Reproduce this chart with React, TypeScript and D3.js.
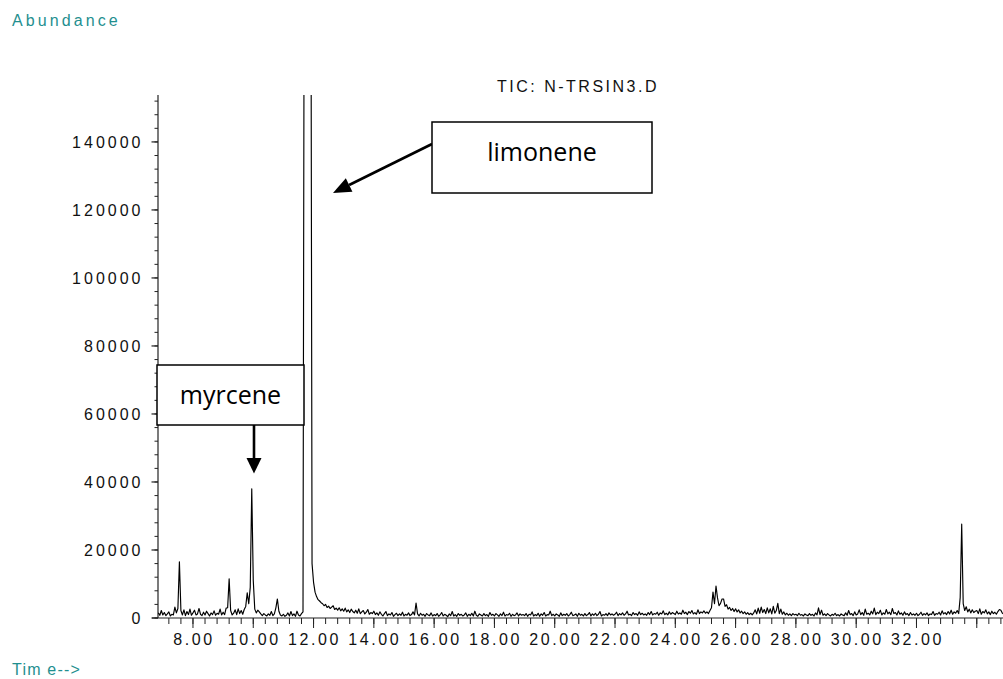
import React from "react";
import * as d3 from "d3";

// ---- data ----
const startTime = 6.85; // min, first sample
const sampleStep = 0.05; // min between samples
const abundance = [
  // 6.85 - 6.95
  1500, 800, 2200,
  // 7.00 - 7.95
  900, 1600, 700, 1200, 1800, 600, 1100, 900, 3200, 1500, 2800, 16500, 2200, 900, 2400, 700, 1900, 1000, 2600, 800,
  // 8
  1500, 2300, 900, 1200, 2800, 1100, 700, 1700, 900, 2000, 1300, 600, 1500, 1000, 2100, 800, 1400, 1100, 2600, 900,
  // 9
  1700, 1000, 2900, 3000, 11500, 2200, 900, 1400, 2400, 1000, 2700, 1300, 2200, 1100, 2500, 3400, 7400, 4200, 9000, 38000,
  // 10
  11000, 2600, 1500, 2300, 1800, 1200, 700, 1300, 900, 600, 1200, 800, 1900, 700, 1200, 3000, 5600, 2000, 900, 600,
  // 11
  1100, 500, 800, 1500, 600, 1900, 700, 1200, 500, 2000, 900, 600, 1300, 1800, 250000, 620000, 700000, 450000, 260000, 16000,
  // 12
  10500, 7600, 6300, 5400, 5000, 4500, 4200, 3600, 4000, 3100, 3500, 2800, 3200, 3600, 2500, 2900, 2300, 3000, 2100, 2700,
  // 13
  2000, 2900, 1800, 2400, 1600, 2600, 1900, 1500, 2300, 1400, 2700, 1300, 1800, 2200, 1200, 1700, 2500, 1100, 1600, 1300,
  // 14
  2000, 1000, 1500, 800, 1800, 1100, 600, 1300, 1900, 700, 1200, 900, 1600, 500, 1000, 1400, 700, 1200, 800, 1700,
  // 15
  600, 1100, 800, 1500, 700, 1000, 1800, 900, 4400, 1200, 600, 1400, 800, 1100, 500, 1300, 900, 700, 1500, 600,
  // 16
  1000, 700, 1300, 500, 900, 1600, 600, 1100, 800, 400, 1200, 700, 1900, 600, 1000, 500, 1300, 800, 1100, 600,
  // 17
  900, 1500, 500, 1100, 700, 1400, 600, 2000, 800, 500, 1200, 900, 600, 1300, 700, 1000, 500, 1600, 800, 1100,
  // 18
  600, 1300, 900, 500, 1200, 700, 1700, 600, 1000, 800, 1400, 500, 1100, 700, 900, 1500, 600, 1200, 800, 1000,
  // 19
  700, 1300, 500, 1100, 900, 1800, 600, 1000, 700, 1400, 500, 1200, 800, 1600, 600, 1000, 900, 2000, 700, 1100,
  // 20
  600, 1200, 900, 500, 1500, 700, 1100, 800, 1300, 600, 1000, 1700, 700, 900, 1200, 500, 1400, 800, 1100, 600,
  // 21
  1300, 700, 1000, 1600, 600, 1200, 800, 1400, 700, 1100, 1900, 600, 1000, 800, 1300, 700, 1500, 900, 1200, 800,
  // 22
  1100, 1700, 700, 1300, 900, 1500, 800, 1200, 2000, 900, 1100, 700, 1600, 1000, 1300, 800, 1800, 1000, 1400, 900,
  // 23
  1200, 800, 1600, 1000, 1900, 900, 1300, 1100, 1700, 800, 1500, 1200, 2100, 1000, 1400, 900, 1800, 1100, 1600, 1300,
  // 24
  1000, 2000, 1200, 1500, 1100, 2300, 1300, 1700, 1000, 1900, 1400, 2200, 1200, 1600, 1100, 2400, 1300, 1800, 1500, 2100,
  // 25
  1400, 1800, 1300, 2200, 3000, 7600, 4200, 9400, 5900, 3600, 4300, 5600, 5600, 3400, 3900, 2600, 3100, 2200, 2800, 1900,
  // 26
  2700, 1800, 2400, 1500, 2000, 1300, 1800, 1100, 1600, 1000, 1400, 900, 1500, 2400, 1200, 2900, 1400, 3200, 1600, 2500,
  // 27
  1300, 3000, 1500, 2700, 1200, 3400, 1400, 2200, 4300, 1300, 2600, 1100, 1800, 900, 1400, 800, 1200, 700, 1300, 900,
  // 28
  1100, 700, 1400, 800, 1000, 600, 1200, 900, 700, 1300, 800, 1100, 600, 1500, 900, 3000, 1000, 2300, 800, 1200,
  // 29
  700, 1300, 900, 600, 1100, 800, 1400, 700, 1000, 600, 1200, 900, 700, 1500, 800, 2200, 1000, 1300, 700, 1800,
  // 30
  900, 1200, 2400, 1000, 1600, 800, 2600, 1100, 1400, 900, 2000, 1200, 2900, 1000, 1700, 1300, 2300, 900, 1500, 1100,
  // 31
  2500, 1200, 1700, 1000, 2800, 1300, 1600, 900, 2100, 1100, 1500, 800, 1800, 1000, 1300, 700, 1600, 900, 1200, 800,
  // 32
  1400, 700, 1100, 1700, 800, 1300, 900, 1500, 700, 1200, 1000, 1900, 800, 1300, 1100, 1700, 900, 2100, 1200, 1600,
  // 33
  1000, 1900, 1200, 2300, 1100, 1800, 1400, 2200, 1300, 6000, 27600, 4200, 2200, 3300, 1800, 2600, 1500, 2400, 1600, 2000,
  // 34
  2200, 1300, 2700, 1100, 1900, 1500, 2400, 1200, 1800, 1000, 2000, 1300, 1700, 1100, 1900, 2500, 2300, 1400, 1200, 1800,
  // 35.00
  1000,
];

const yTickValues = [0, 20000, 40000, 60000, 80000, 100000, 120000, 140000];
const yTickLabels = ["0", "20000", "40000", "60000", "80000", "100000", "120000", "140000"];
const xLabelTimes = [8, 10, 12, 14, 16, 18, 20, 22, 24, 26, 28, 30, 32];
const xTickLabels = ["8.00", "10.00", "12.00", "14.00", "16.00", "18.00", "20.00", "22.00", "24.00", "26.00", "28.00", "30.00", "32.00"];
const xMajorTimes = [8, 10, 12, 14, 16, 18, 20, 22, 24, 26, 28, 30, 32, 34];

const title = "TIC: N-TRSIN3.D";
const yTitle = "Abundance";
const xTitle = "Tim e-->";
const annotations = [
  { label: "limonene" },
  { label: "myrcene" },
];

export default function App() {
  const W = 1003;
  const H = 679;
  const left = 158;
  const right = 1003;
  const top = 95;
  const bottom = 618;

  const x = d3.scaleLinear().domain([6.84, 34.87]).range([left, right]);
  const y = d3.scaleLinear().domain([0, 153800]).range([bottom, top]);

  const pts: [number, number][] = abundance.map((v, i) => [startTime + i * sampleStep, v]);
  const line = d3
    .line<[number, number]>()
    .x((d) => x(d[0]))
    .y((d) => y(d[1]));
  const path = line(pts) || "";

  const xMinor = d3.range(7.2, 34.9, 0.4);
  const yMinor = d3.range(0, 152001, 4000);

  const axisFont = "'Liberation Sans', Arial, sans-serif";
  const teal = "#1f8f8f";
  const axisColor = "#222";

  // annotation geometry
  const limBox = { x0: 432, y0: 122, x1: 652, y1: 193 };
  const myrBox = { x0: 157, y0: 365, x1: 304, y1: 425 };

  const limTip = { x: 333, y: 193 };
  const limStart = { x: 432, y: 144 };
  const ang = Math.atan2(limStart.y - limTip.y, limStart.x - limTip.x);
  const headLen = 18;
  const headW = 7.5;
  const bx = limTip.x + headLen * Math.cos(ang);
  const by = limTip.y + headLen * Math.sin(ang);
  const px = -Math.sin(ang) * headW;
  const py = Math.cos(ang) * headW;

  return (
    <svg
      width={W}
      height={H}
      style={{ position: "absolute", left: 0, top: 0, background: "#fff" }}
    >
      <rect x={0} y={0} width={W} height={H} fill="#fff" />
      <defs>
        <clipPath id="plotClip">
          <rect x={left} y={top} width={right - left} height={bottom - top + 1} />
        </clipPath>
      </defs>

      {/* titles */}
      <text x={12} y={26} fill={teal} fontFamily={axisFont} fontSize={16} letterSpacing={3.1}>
        {yTitle}
      </text>
      <text x={12} y={675} fill={teal} fontFamily={axisFont} fontSize={16} letterSpacing={1.2}>
        {xTitle}
      </text>
      <text x={497} y={92} fill="#111" fontFamily={axisFont} fontSize={16} letterSpacing={2.5}>
        {title}
      </text>

      {/* y axis */}
      <line x1={left} x2={left} y1={top} y2={bottom} stroke={axisColor} strokeWidth={1.2} />
      {yMinor.map((v) => (
        <line key={"ym" + v} x1={left - 3.5} x2={left} y1={y(v)} y2={y(v)} stroke={axisColor} strokeWidth={1} />
      ))}
      {yTickValues.map((v, i) => (
        <g key={"yt" + v}>
          <line x1={left - 6.5} x2={left} y1={y(v)} y2={y(v)} stroke={axisColor} strokeWidth={1.2} />
          <text
            x={143.5}
            y={y(v)}
            dy="0.36em"
            textAnchor="end"
            fontFamily={axisFont}
            fontSize={16}
            letterSpacing={3}
            fill="#111"
          >
            {yTickLabels[i]}
          </text>
        </g>
      ))}

      {/* x axis */}
      <line x1={152} x2={right} y1={bottom} y2={bottom} stroke={axisColor} strokeWidth={1.2} />
      {xMinor.map((t) => (
        <line key={"xm" + t} x1={x(t)} x2={x(t)} y1={bottom} y2={bottom + 6} stroke={axisColor} strokeWidth={1} />
      ))}
      {xMajorTimes.map((t) => (
        <line key={"xM" + t} x1={x(t)} x2={x(t)} y1={bottom} y2={bottom + 10} stroke={axisColor} strokeWidth={1} />
      ))}
      {xLabelTimes.map((t, i) => (
        <text
          key={"xl" + t}
          x={x(t) + 1}
          y={645}
          textAnchor="middle"
          fontFamily={axisFont}
          fontSize={16}
          letterSpacing={2.6}
          fill="#111"
        >
          {xTickLabels[i]}
        </text>
      ))}

      {/* trace */}
      <g clipPath="url(#plotClip)">
        <path d={path} fill="none" stroke="#000" strokeWidth={1.15} strokeLinejoin="round" />
      </g>

      {/* limonene annotation */}
      <line x1={limStart.x} y1={limStart.y} x2={bx} y2={by} stroke="#000" strokeWidth={2.6} />
      <polygon
        points={`${limTip.x},${limTip.y} ${bx + px},${by + py} ${bx - px},${by - py}`}
        fill="#000"
      />
      <rect
        x={limBox.x0}
        y={limBox.y0}
        width={limBox.x1 - limBox.x0}
        height={limBox.y1 - limBox.y0}
        fill="#fff"
        stroke="#000"
        strokeWidth={1.5}
      />
      <text
        x={(limBox.x0 + limBox.x1) / 2}
        y={161}
        textAnchor="middle"
        fontFamily="'Open Sans', sans-serif"
        fontSize={25}
        fill="#000"
      >
        {annotations[0].label}
      </text>

      {/* myrcene annotation */}
      <rect
        x={myrBox.x0}
        y={myrBox.y0}
        width={myrBox.x1 - myrBox.x0}
        height={myrBox.y1 - myrBox.y0}
        fill="#fff"
        stroke="#000"
        strokeWidth={1.5}
      />
      <text
        x={(myrBox.x0 + myrBox.x1) / 2}
        y={404}
        textAnchor="middle"
        fontFamily="'Open Sans', sans-serif"
        fontSize={25}
        fill="#000"
      >
        {annotations[1].label}
      </text>
      <line x1={254} y1={425} x2={254} y2={459} stroke="#000" strokeWidth={2.6} />
      <polygon points="246.5,458 261.5,458 254,473.5" fill="#000" />
    </svg>
  );
}
